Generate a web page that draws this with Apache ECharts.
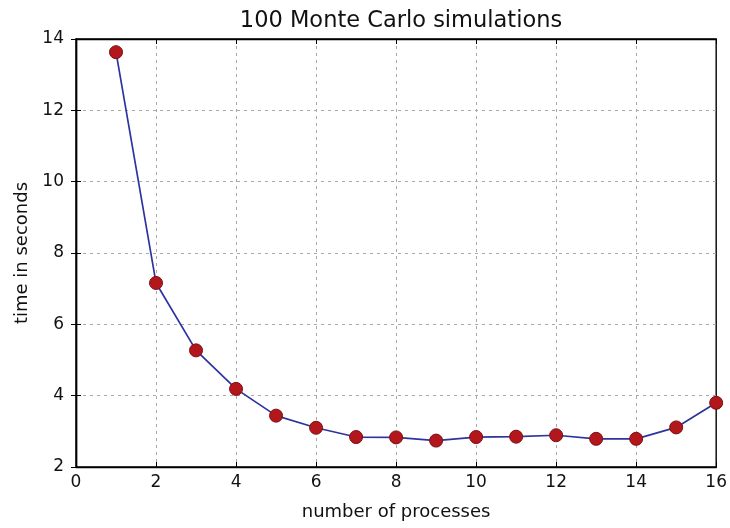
<!DOCTYPE html>
<html>
<head>
<meta charset="utf-8">
<script src="https://cdn.jsdelivr.net/npm/echarts@6/dist/echarts.min.js"></script>
<style>
  html, body { margin: 0; padding: 0; background: #fff; }
  #chart { width: 730px; height: 528px; }
</style>
</head>
<body>
<div id="chart"></div>
<script>
// Run time for 100 Monte Carlo simulations versus number of worker processes
const processes = [1, 2, 3, 4, 5, 6, 7, 8, 9, 10, 11, 12, 13, 14, 15, 16];
const seconds = [13.63, 7.16, 5.27, 4.19, 3.44, 3.10, 2.84, 2.83, 2.74, 2.84, 2.85, 2.89, 2.79, 2.79, 3.11, 3.80];
const xTicks = [0, 2, 4, 6, 8, 10, 12, 14, 16];
const yTicks = [2, 4, 6, 8, 10, 12, 14];

const FONT = 'DejaVu Sans';
const points = processes.map((p, i) => [p, seconds[i]]);

// dashed grid, with the outermost lines left to the solid frame
const gridLine = {
  show: true, showMinLine: false, showMaxLine: false,
  lineStyle: { color: '#a8a8a8', type: [3, 4], width: 1 }
};
const tickIn = { show: true, inside: true, length: 5, lineStyle: { color: '#000' } };
const frame = { show: true, lineStyle: { color: '#000', width: 1.4 } };

const chart = echarts.init(document.getElementById('chart'));
chart.setOption({
  animation: false,
  title: {
    text: '100 Monte Carlo simulations',
    left: 396, top: 5, textAlign: 'center',
    textStyle: { fontFamily: FONT, fontSize: 22.5, fontWeight: 'normal', color: '#111' }
  },
  grid: {
    left: 76, right: 13, top: 39, bottom: 61,
    show: true, borderColor: '#000', borderWidth: 1.4, backgroundColor: '#fff'
  },
  xAxis: [{
    type: 'value', min: xTicks[0], max: xTicks[xTicks.length - 1], interval: 2,
    name: 'number of processes', nameLocation: 'middle', nameGap: 36,
    nameTextStyle: { fontFamily: FONT, fontSize: 18, color: '#111' },
    axisLine: frame,
    axisTick: tickIn,
    axisLabel: { fontFamily: FONT, fontSize: 17, color: '#111', margin: 7 },
    splitLine: gridLine
  }, {
    type: 'value', position: 'top', min: xTicks[0], max: xTicks[xTicks.length - 1], interval: 2,
    axisLine: frame, axisTick: tickIn, axisLabel: { show: false }, splitLine: { show: false }
  }],
  yAxis: [{
    type: 'value', min: yTicks[0], max: yTicks[yTicks.length - 1], interval: 2,
    name: 'time in seconds', nameLocation: 'middle', nameGap: 42,
    nameTextStyle: { fontFamily: FONT, fontSize: 18, color: '#111' },
    axisLine: frame,
    axisTick: tickIn,
    axisLabel: { fontFamily: FONT, fontSize: 17, color: '#111', margin: 12 },
    splitLine: gridLine
  }, {
    type: 'value', position: 'right', min: yTicks[0], max: yTicks[yTicks.length - 1], interval: 2,
    axisLine: frame, axisTick: tickIn, axisLabel: { show: false }, splitLine: { show: false }
  }],
  series: [{
    type: 'line',
    data: points,
    symbol: 'circle',
    symbolSize: 13,
    lineStyle: { color: '#2e33a0', width: 1.7 },
    itemStyle: { color: '#b3171c', borderColor: '#7a1014', borderWidth: 1 },
    z: 5
  }]
});
</script>
</body>
</html>
